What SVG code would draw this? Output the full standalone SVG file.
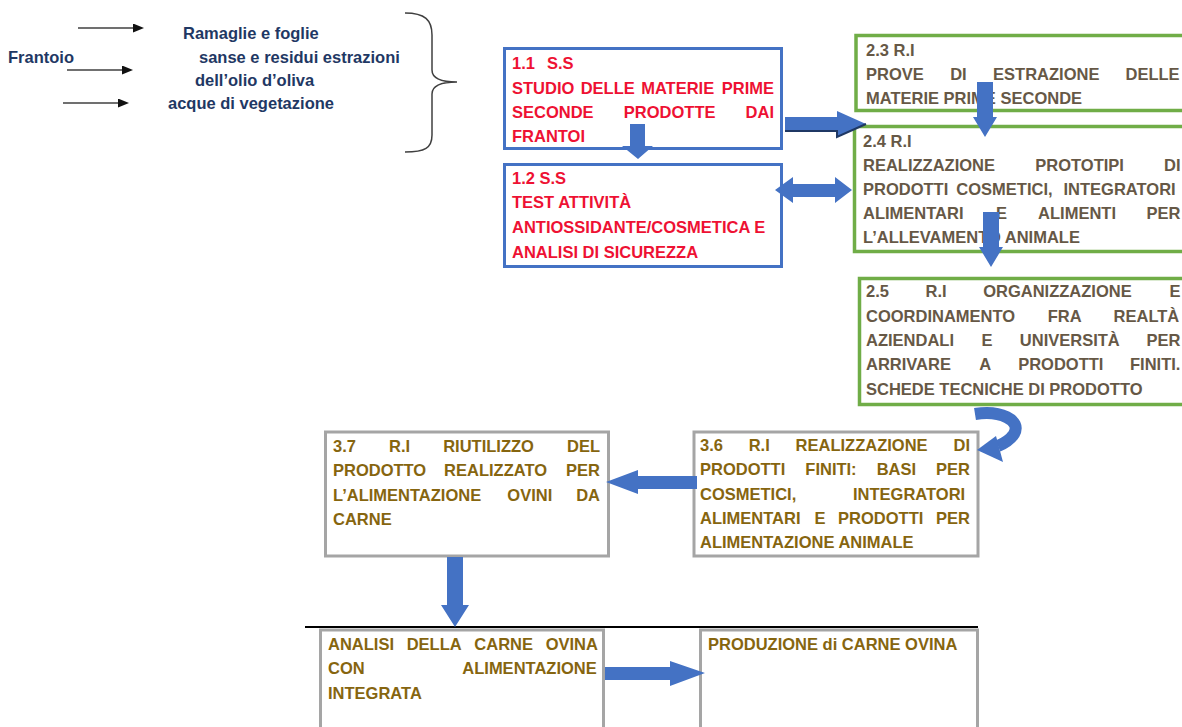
<svg xmlns="http://www.w3.org/2000/svg" width="1182" height="727" viewBox="0 0 1182 727">
<style>
.t{font-family:"Liberation Sans",Arial,sans-serif;font-weight:bold;font-size:16.5px}
.red{fill:#ee1133}
.gr{fill:#665846}
.br{fill:#86650f}
.nv{fill:#1f3864}
.bx{fill:#ffffff}
.blue{stroke:#4472c4;stroke-width:3}
.green{stroke:#70ad47;stroke-width:3.5}
.gray{stroke:#a5a5a5;stroke-width:3}
.arr{fill:#4472c4}
.thin{stroke:#404040;stroke-width:1.5;fill:none}
</style>
<defs>
<marker id="ah" markerUnits="userSpaceOnUse" markerWidth="11" markerHeight="9" refX="0" refY="4.5" orient="auto">
<path d="M0,0 L11,4.5 L0,9 z" fill="#111"/>
</marker>
</defs>
<rect width="1182" height="727" fill="#ffffff"/>

<g id="sources">
<text class="t nv" x="8" y="63">Frantoio</text>
<text class="t nv" x="183" y="39">Ramaglie e foglie</text>
<text class="t nv" x="199" y="63">sanse e residui estrazioni</text>
<text class="t nv" x="195" y="86">dell’olio d’oliva</text>
<text class="t nv" x="168" y="109">acque di vegetazione</text>
<path class="thin" d="M405 13 C425 13 432 20 432 35 L432 70 C432 78 440 82 457 82 C440 82 432 86 432 94 L432 135 C432 148 425 152 405 152"/>
</g>

<g id="n11">
<rect class="bx blue" x="504.5" y="48.5" width="277" height="100"/>
<text class="t red" y="69"><tspan x="512">1.1</tspan><tspan x="547">S.S</tspan></text>
<text class="t red" y="94"><tspan x="512">STUDIO</tspan><tspan x="580.7">DELLE</tspan><tspan x="641.2">MATERIE</tspan><tspan x="721.8">PRIME</tspan></text>
<text class="t red" y="118"><tspan x="512">SECONDE</tspan><tspan x="623.8">PRODOTTE</tspan><tspan x="745.6">DAI</tspan></text>
<text class="t red" x="512" y="142">FRANTOI</text>
</g>

<g id="n12">
<rect class="bx blue" x="504.5" y="164.5" width="277" height="102"/>
<text class="t red" x="512" y="184">1.2 S.S</text>
<text class="t red" x="512" y="208">TEST ATTIVITÀ</text>
<text class="t red" x="512" y="233">ANTIOSSIDANTE/COSMETICA E</text>
<text class="t red" x="512" y="258">ANALISI DI SICUREZZA</text>
</g>

<g id="n23">
<rect class="bx green" x="856" y="35.5" width="340" height="75"/>
<text class="t gr" x="866" y="56">2.3 R.I</text>
<text class="t gr" y="80"><tspan x="866">PROVE</tspan><tspan x="950.2">DI</tspan><tspan x="993.1">ESTRAZIONE</tspan><tspan x="1125.5">DELLE</tspan></text>
<text class="t gr" x="866" y="104">MATERIE PRIME SECONDE</text>
</g>

<g id="n24">
<rect class="bx green" x="854.5" y="126.5" width="340" height="125"/>
<text class="t gr" x="863" y="147">2.4 R.I</text>
<text class="t gr" y="171"><tspan x="863">REALIZZAZIONE</tspan><tspan x="1035.3">PROTOTIPI</tspan><tspan x="1164">DI</tspan></text>
<text class="t gr" y="195"><tspan x="863">PRODOTTI</tspan><tspan x="956.3">COSMETICI,</tspan><tspan x="1063.5">INTEGRATORI</tspan></text>
<text class="t gr" y="219"><tspan x="863">ALIMENTARI</tspan><tspan x="995.9">E</tspan><tspan x="1038.1">ALIMENTI</tspan><tspan x="1146.6">PER</tspan></text>
<text class="t gr" x="863" y="243">L’ALLEVAMENTO ANIMALE</text>
</g>

<g id="n25">
<rect class="bx green" x="859.5" y="278.5" width="340" height="126"/>
<text class="t gr" y="297"><tspan x="866">2.5</tspan><tspan x="925.5">R.I</tspan><tspan x="983.2">ORGANIZZAZIONE</tspan><tspan x="1169.5">E</tspan></text>
<text class="t gr" y="322"><tspan x="866">COORDINAMENTO</tspan><tspan x="1047.7">FRA</tspan><tspan x="1113.6">REALTÀ</tspan></text>
<text class="t gr" y="346"><tspan x="866">AZIENDALI</tspan><tspan x="981.4">E</tspan><tspan x="1019.8">UNIVERSITÀ</tspan><tspan x="1146.6">PER</tspan></text>
<text class="t gr" y="370"><tspan x="866">ARRIVARE</tspan><tspan x="979.3">A</tspan><tspan x="1018.2">PRODOTTI</tspan><tspan x="1130">FINITI.</tspan></text>
<text class="t gr" x="866" y="395">SCHEDE TECNICHE DI PRODOTTO</text>
</g>

<g id="n36">
<rect class="bx gray" x="694" y="432" width="284" height="124"/>
<text class="t br" y="451"><tspan x="700">3.6</tspan><tspan x="748.7">R.I</tspan><tspan x="795.6">REALIZZAZIONE</tspan><tspan x="953.5">DI</tspan></text>
<text class="t br" y="475"><tspan x="700">PRODOTTI</tspan><tspan x="805.3">FINITI:</tspan><tspan x="876.7">BASI</tspan><tspan x="936.1">PER</tspan></text>
<text class="t br" y="500"><tspan x="700">COSMETICI,</tspan><tspan x="853">INTEGRATORI</tspan></text>
<text class="t br" y="524"><tspan x="700">ALIMENTARI</tspan><tspan x="814.4">E</tspan><tspan x="838.1">PRODOTTI</tspan><tspan x="936.1">PER</tspan></text>
<text class="t br" x="700" y="548">ALIMENTAZIONE ANIMALE</text>
</g>

<g id="n37">
<rect class="bx gray" x="325.5" y="432" width="283" height="124"/>
<text class="t br" y="452"><tspan x="333">3.7</tspan><tspan x="389">R.I</tspan><tspan x="443.2">RIUTILIZZO</tspan><tspan x="567">DEL</tspan></text>
<text class="t br" y="476"><tspan x="333">PRODOTTO</tspan><tspan x="444.1">REALIZZATO</tspan><tspan x="566.1">PER</tspan></text>
<text class="t br" y="501"><tspan x="333">L’ALIMENTAZIONE</tspan><tspan x="507.3">OVINI</tspan><tspan x="576.2">DA</tspan></text>
<text class="t br" x="333" y="525">CARNE</text>
</g>

<g id="analisi">
<rect class="bx gray" x="320.5" y="630" width="283" height="110"/>
<text class="t br" y="650"><tspan x="328">ANALISI</tspan><tspan x="406.7">DELLA</tspan><tspan x="474.3">CARNE</tspan><tspan x="545.7">OVINA</tspan></text>
<text class="t br" y="674"><tspan x="328">CON</tspan><tspan x="462.3">ALIMENTAZIONE</tspan></text>
<text class="t br" x="328" y="699">INTEGRATA</text>
</g>

<g id="produzione">
<rect class="bx gray" x="700.5" y="630" width="277" height="110"/>
<text class="t br" x="708" y="650">PRODUZIONE di CARNE OVINA</text>
</g>

<g id="connectors">
<line class="thin" x1="78" y1="28" x2="133" y2="28" marker-end="url(#ah)"/>
<line class="thin" x1="67" y1="70" x2="122" y2="70" marker-end="url(#ah)"/>
<line class="thin" x1="63" y1="103" x2="118" y2="103" marker-end="url(#ah)"/>
<line x1="305" y1="627" x2="978" y2="627" stroke="#000" stroke-width="2"/>
<polygon class="arr" points="785,117 837,117 837,111 866,124 837,137 837,131 785,131"/>
<polyline points="785,131 837,131 837,137 866,124" fill="none" stroke="#1f3864" stroke-width="2"/>
<polygon class="arr" points="775,190 793,177 793,184 835,184 835,177 852,190 835,203 835,197 793,197 793,203"/>
<polygon class="arr" points="630,124 645,124 645,146 653,146 638,159 622,146 630,146"/>
<polygon class="arr" points="977,82 993,82 993,117 997,117 985,137 973,117 977,117"/>
<polygon class="arr" points="983,212 999,212 999,247 1003,247 991,267 979,247 983,247"/>
<path d="M975 414 C1000 410 1022 420 1014 434 C1010 440 1005 443 998 446" fill="none" stroke="#4472c4" stroke-width="12"/>
<polygon class="arr" points="977,450 996,436 1003,462"/>
<polygon class="arr" points="697,476 638,476 638,470 606,482 638,494 638,489 697,489"/>
<polygon class="arr" points="447,557 463,557 463,605 469,605 455,627 441,605 447,605"/>
<polygon class="arr" points="605,667 670,667 670,661 705,673 670,686 670,680 605,680"/>
</g>
</svg>
